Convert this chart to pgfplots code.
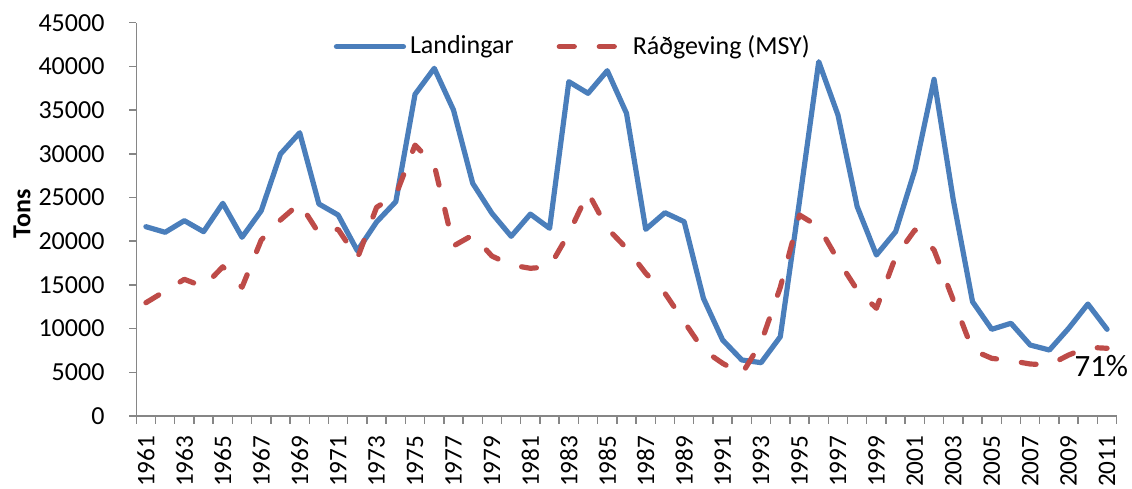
\documentclass[border=0pt]{standalone}
\usepackage{fontspec}
\setmainfont{Carlito}
\usepackage{pgfplots}
\pgfplotsset{compat=1.18}
\definecolor{xlblue}{HTML}{4A7EBB}
\definecolor{xlred}{HTML}{BE4B48}
\definecolor{axgray}{HTML}{868686}

\pgfplotstableread{
year landingar
1961 21660
1962 21020
1963 22350
1964 21090
1965 24340
1966 20450
1967 23490
1968 29980
1969 32410
1970 24260
1971 23000
1972 18900
1973 22200
1974 24520
1975 36810
1976 39780
1977 35010
1978 26620
1979 23190
1980 20560
1981 23100
1982 21480
1983 38250
1984 36920
1985 39510
1986 34630
1987 21360
1988 23260
1989 22230
1990 13470
1991 8700
1992 6410
1993 6100
1994 9070
1995 24600
1996 40540
1997 34440
1998 23950
1999 18420
2000 21090
2001 28150
2002 38520
2003 24710
2004 13080
2005 9920
2006 10610
2007 8120
2008 7550
2009 10030
2010 12810
2011 9920
}\landtab

\pgfplotstableread{
year msy
1961 12960
1962 14300
1963 15640
1964 14790
1965 17080
1966 14730
1967 20140
1968 22430
1969 24340
1970 20900
1971 21360
1972 18040
1973 23880
1974 25290
1975 31000
1976 28720
1977 19450
1978 20700
1979 18300
1980 17280
1981 16900
1982 17080
1983 20900
1984 25550
1985 21480
1986 19190
1987 16330
1988 14040
1989 10790
1990 7550
1991 6030
1992 4810
1993 8400
1994 14720
1995 23000
1996 21660
1997 17850
1998 14420
1999 12320
2000 18230
2001 21280
2002 18990
2003 13270
2004 7550
2005 6600
2006 6330
2007 5950
2008 5840
2009 6980
2010 7860
2011 7750
}\msytab

\begin{document}
\fontsize{13}{15.6}\selectfont
\begin{tikzpicture}
\begin{axis}[
  name=ax,
  scale only axis, width=490.2pt, height=196.65pt,
  xmin=1960.5, xmax=2011.5, ymin=0, ymax=45000,
  axis x line=bottom, axis y line=left,
  axis line style={-, draw=axgray, line width=0.75pt},
  tick style={draw=axgray, line width=0.75pt},
  tick align=outside,
  xtick={1961,1963,...,2011},
  major x tick style={draw=none},
  minor xtick={1960.5,1961.5,...,2011.5},
  minor tick length=3.85pt,
  ytick={0,5000,...,45000},
  major tick length=3.4pt,
  scaled y ticks=false,
  /pgf/number format/assume math mode=true,
  /pgf/number format/1000 sep={},
  ticklabel style={font=\fontsize{13}{15.6}\selectfont, text=black},
  xticklabel style={rotate=90, anchor=east, font=\fontsize{12.6}{15}\selectfont},
  xticklabel shift=2pt,
  yticklabel shift=8pt,
  ylabel={\bfseries Tons},
  ylabel style={at={(axis description cs:-0.1166,0.5136)}, anchor=center, font=\fontsize{13}{15.6}\selectfont},
  legend columns=2,
  legend style={draw=none, fill=none, inner sep=0pt, outer sep=0pt,
    at={(axis description cs:0.2015,0.939)}, anchor=west,
    font=\fontsize{13}{15.6}\selectfont,
    /tikz/every even column/.append style={column sep=19.5pt}},
  legend image code/.code={\draw[#1] (0pt,0pt) -- (33.5pt,0pt);},
  clip=false,
]
\addplot[xlblue, line width=2.6pt, line join=round, line cap=round, no markers] table[x=year, y=landingar] {\landtab};
\addlegendentry{Landingar}
\addplot[xlred, line width=2.6pt, line join=round, line cap=round, dash pattern=on 7.5pt off 12.5pt, no markers] table[x=year, y=msy] {\msytab};
\addlegendentry{Ráðgeving (MSY)}
\node[font=\fontsize{15.5}{18}\selectfont, anchor=center] at (axis cs:2010.7,5720) {71\%};
\end{axis}
\pgfresetboundingbox
\path ([shift={(-68.15pt,-36pt)}]ax.south west) rectangle ([shift={(7.65pt,11.35pt)}]ax.north east);
\end{tikzpicture}
\end{document}
